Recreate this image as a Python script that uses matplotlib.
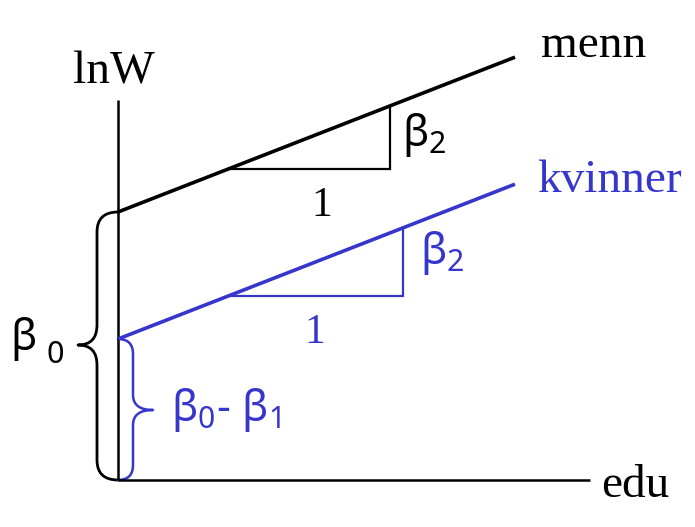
import matplotlib
matplotlib.use('Agg')
import matplotlib.pyplot as plt
from matplotlib.path import Path
from matplotlib.patches import PathPatch

# modell: lnW = beta0 - beta1*kvinne + beta2*edu  (vilkaarlige enheter)
beta0 = 268.0
beta1 = 127.0
beta2 = 0.39
edu_max = 397.0
axis_x_end = 472.0
axis_y_top = 380.0
tri_start = 110.0
tri_run = [162.0, 175.0]          # menn, kvinner
groups = ['menn', 'kvinner']

BLUE = '#3636cc'
SERIF = 'Liberation Serif'
SANS = 'Noto Sans'


def brace(ax, x_end, x_spine, x_tip, y_top, y_bot, y_tip, r, color, lw):
    # kroellparentes mellom y_bot og y_top, spiss mot x_tip
    verts = [(x_end, y_top), (x_spine, y_top), (x_spine, y_top - r),
             (x_spine, y_tip + r),
             (x_spine, y_tip), (x_tip, y_tip),
             (x_spine, y_tip), (x_spine, y_tip - r),
             (x_spine, y_bot + r),
             (x_spine, y_bot), (x_end, y_bot)]
    codes = [Path.MOVETO, Path.CURVE3, Path.CURVE3,
             Path.LINETO,
             Path.CURVE3, Path.CURVE3,
             Path.CURVE3, Path.CURVE3,
             Path.LINETO,
             Path.CURVE3, Path.CURVE3]
    ax.add_patch(PathPatch(Path(verts, codes), fill=False, edgecolor=color,
                           lw=lw, capstyle='round', joinstyle='round'))


fig = plt.figure(figsize=(6.95, 5.27), dpi=100)
ax = fig.add_axes([0, 0, 1, 1])
ax.set_xlim(-118, 577)
ax.set_ylim(-47, 480)
ax.axis('off')

# akser
ax.plot([0, 0], [0, axis_y_top], color='black', lw=1.8, solid_capstyle='butt')
ax.plot([0, axis_x_end], [0, 0], color='black', lw=1.8, solid_capstyle='butt')

intercepts = [beta0, beta0 - beta1]
colors = ['black', BLUE]
for b, run, c in zip(intercepts, tri_run, colors):
    ax.plot([0, edu_max], [b, b + beta2 * edu_max], color=c, lw=2.6,
            solid_capstyle='butt')
    y0 = b + beta2 * tri_start
    x1 = tri_start + run
    ax.plot([tri_start, x1, x1], [y0, y0, b + beta2 * x1], color=c, lw=1.6,
            solid_joinstyle='miter')

# kroellparenteser
brace(ax, 0, -21, -40, beta0, 0, 135, 20, 'black', 2.0)
brace(ax, 0, 15, 35, beta0 - beta1, 0, 70, 15, BLUE, 1.8)

# tekst
ax.text(-4, 397, 'lnW', fontsize=34, family=SERIF, ha='center', va='baseline')
ax.text(423, 423, groups[0], fontsize=34, family=SERIF, va='baseline')
ax.text(419, 288, groups[1], fontsize=34, family=SERIF, color=BLUE, va='baseline')
ax.text(483, -17, 'edu', fontsize=34, family=SERIF, va='baseline')
ax.text(204, 264, '1', fontsize=30, family=SERIF, ha='center', va='baseline')
ax.text(197, 137, '1', fontsize=30, family=SERIF, color=BLUE, ha='center', va='baseline')

ax.text(284, 334, r'$\mathregular{β_2}$', fontsize=31, family=SANS, va='baseline')
ax.text(302, 216, r'$\mathregular{β_2}$', fontsize=31, family=SANS, color=BLUE,
        va='baseline')
ax.text(-108, 130, 'β', fontsize=31, family=SANS, va='baseline')
ax.text(-71, 117, '0', fontsize=22, family=SANS, va='baseline')
ax.text(53, 59, r'$\mathregular{β_0}$- $\mathregular{β_1}$', fontsize=31,
        family=SANS, color=BLUE, va='baseline')

fig.savefig('out.png', dpi=100)
